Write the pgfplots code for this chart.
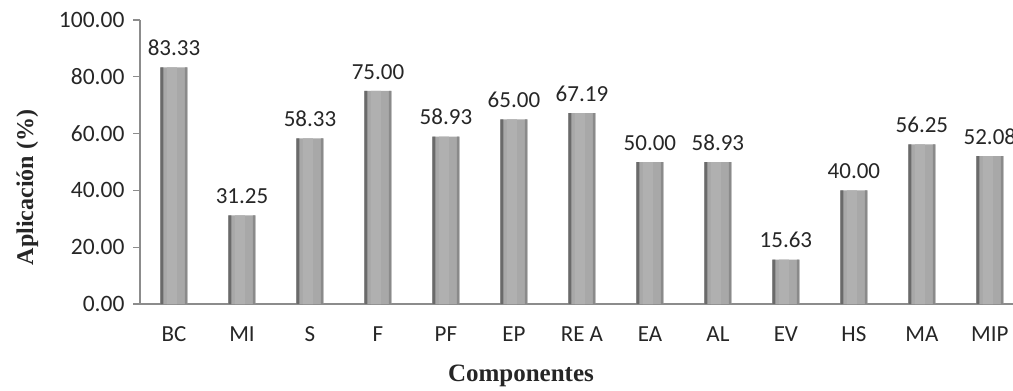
\documentclass[border=0pt]{standalone}
\usepackage{pgfplots}
\pgfplotsset{compat=1.18}
\usepackage{pgfplotstable}
\usepackage{fontspec}
\setmainfont{Carlito}
\newfontfamily\serif{Liberation Serif}
\definecolor{axgray}{HTML}{8C8C8C}
\definecolor{txt}{HTML}{262626}
\definecolor{barL}{HTML}{6A6A6A}
\definecolor{barM}{HTML}{A8A8A8}
\definecolor{barH}{HTML}{B0B0B0}
\definecolor{barR}{HTML}{8A8A8A}
\pgfplotstableread{
x y lab
0 83.33 83.33
1 31.25 31.25
2 58.33 58.33
3 75.00 75.00
4 58.93 58.93
5 65.00 65.00
6 67.19 67.19
7 50.00 50.00
8 50.00 58.93
9 15.63 15.63
10 40.00 40.00
11 56.25 56.25
12 52.08 52.08
}\datatable
\begin{document}
\begin{tikzpicture}
\useasboundingbox (-140pt,-87pt) rectangle (873pt,304pt);
\clip (-140pt,-87pt) rectangle (873pt,304pt);
\begin{axis}[
  at={(0pt,0pt)}, anchor=south west,
  scale only axis, width=873pt, height=284pt,
  xmin=-0.5, xmax=12.34, ymin=0, ymax=100,
  axis lines*=left,
  axis line style={axgray, line width=1.2pt},
  ytick={0,20,...,100},
  yticklabel style={/pgf/number format/.cd, fixed, fixed zerofill, precision=2, /tikz/.cd, font=\fontsize{23.5}{27}\selectfont, text=txt, xshift=-5pt},
  /pgf/number format/assume math mode=true,
  xtick={0,...,12},
  xticklabels={BC,MI,S,F,PF,EP,RE A,EA,AL,EV,HS,MA,MIP},
  xticklabel style={font=\fontsize{23}{27}\selectfont, text=txt, yshift=-12pt},
  x tick style={draw=none},
  y tick style={axgray, line width=1.2pt},
  major tick length=7pt,
  tick align=outside,
  ylabel={Aplicación (\%)},
  xlabel={Componentes},
  ylabel style={font=\serif\bfseries\fontsize{24}{28}\selectfont, text=txt, at={(axis description cs:-0.129,0.41)}, anchor=center},
  xlabel style={font=\serif\bfseries\fontsize{25}{29}\selectfont, text=txt, at={(axis description cs:0.4364,-0.2535)}, anchor=center},
  clip=false,
]
\addplot[ybar, bar width=27pt, bar shift=0pt, draw=none, fill=barM,
  point meta=explicit symbolic,
  nodes near coords,
  nodes near coords style={font=\fontsize{23}{27}\selectfont, text=txt, yshift=8pt},
] table[x=x, y=y, meta=lab] {\datatable};
\addplot[ybar, bar width=10pt, bar shift=-2pt, draw=none, fill=barH] table[x=x, y=y] {\datatable};
\addplot[ybar, bar width=3pt, bar shift=-12pt, draw=none, fill=barL] table[x=x, y=y] {\datatable};
\addplot[ybar, bar width=2.5pt, bar shift=12.25pt, draw=none, fill=barR] table[x=x, y=y] {\datatable};
\end{axis}
\end{tikzpicture}
\end{document}
